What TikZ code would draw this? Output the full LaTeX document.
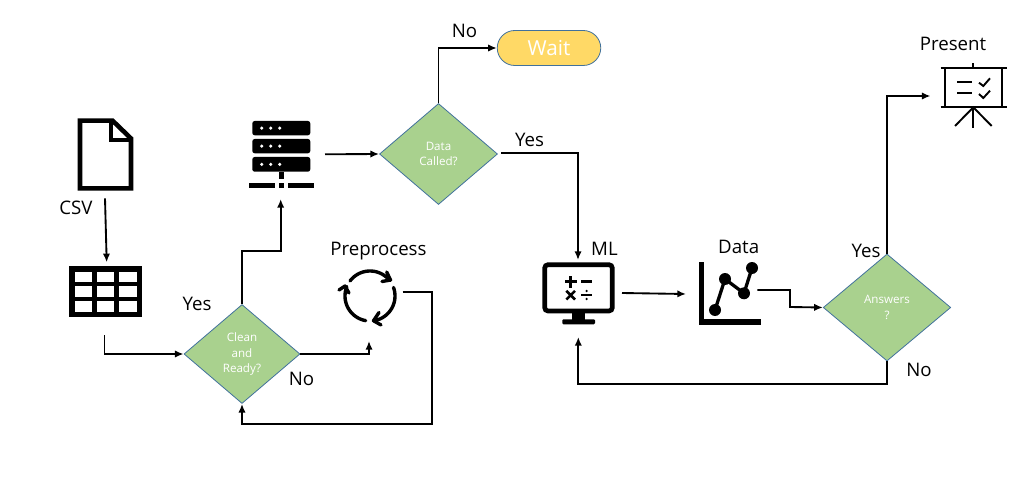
\documentclass[tikz,border=0pt]{standalone}
\usepackage{fontspec}
\setmainfont{Open Sans}
\usetikzlibrary{arrows.meta,shapes.geometric}
\definecolor{dgreen}{HTML}{A9D18E}
\definecolor{dborder}{HTML}{41719C}
\definecolor{wfill}{HTML}{FFD966}
\tikzset{
  x=0.75pt,y=-0.75pt,
  conn/.style={line width=1.4pt,black,-{Latex[length=6.5pt,width=5.5pt]}},
  decision/.style n args={2}{diamond,draw=dborder,line width=0.6pt,fill=dgreen,aspect=1.17,inner sep=0pt,
    minimum width=#1*0.75pt,minimum height=#2*0.75pt,text=white,font=\fontsize{8.7pt}{11.4pt}\selectfont,align=center},
  lbl/.style={font=\fontsize{14pt}{16pt}\selectfont,text=black,inner sep=0pt},
  icon/.style={line width=#1*0.75pt,black,line join=miter},
  iconr/.style={line width=#1*0.75pt,black,line cap=round,line join=round},
}
\begin{document}
\begin{tikzpicture}
\useasboundingbox (0,0) rectangle (1032,481);
\fill[white] (0,0) rectangle (1032,481);

% decisions and terminator
\node[decision={116}{99}] (d1) at (242,354) {Clean\\and\\Ready?};
\node[decision={118}{101}] (d2) at (438.5,154) {Data\\Called?};
\node[decision={127.5}{107}] (d3) at (887,307.5) {Answers\\?};
\node[draw=dborder,line width=0.6pt,fill=wfill,rounded corners=17.5*0.75pt,minimum width=103.5*0.75pt,minimum height=35*0.75pt,inner sep=0pt,
  text=white,font=\fontsize{15.5pt}{17pt}\selectfont] (wait) at (549,48) {Wait};

% document icon
\draw[icon=4.6] (80,188.4) -- (80,120.6) -- (112.5,120.6) -- (131,138.5) -- (131,188.4) -- cycle;
\draw[icon=4.4] (111,120) -- (111,140) -- (131,140);

% table icon
\fill[black] (69.3,266) rectangle (141.7,317.3);
\foreach \xa/\xb in {74.7/91.7,96.7/114,118.7/136.7}
  \foreach \ya/\yb in {271.7/282.3,286/296.7,300.7/312}
    \fill[white] (\xa,\ya) rectangle (\xb,\yb);

% server icon
\foreach \ya/\yb in {121/135.3,139/153.3,157/171.7}{
  \fill[black,rounded corners=1.8pt] (252.3,\ya) rectangle (310.3,\yb);
  \foreach \xc in {261.7,270.7,279.7}
    \fill[white] (\xc,{(\ya+\yb)/2}) circle[radius=1.3pt];
}
\fill[black] (279,171.7) rectangle (284,178.7);
\fill[black] (249,182.7) rectangle (275,188);
\fill[black] (279,182.7) rectangle (284.3,188);
\fill[black] (288.3,182.7) rectangle (314,188);

% preprocess icon
\begin{scope}[iconr=3.4]
  \draw plot[domain=143:38,samples=30] ({370+25*cos(\x)},{296-25*sin(\x)});
  \draw (386.7,272) -- (390.5,280) -- (382,281.5);
  \draw plot[domain=20:-82,samples=30] ({370+25*cos(\x)},{296-25*sin(\x)});
  \draw (381,325) -- (373.5,320.7) -- (379,312.5);
  \draw plot[domain=-100:-202,samples=30] ({370+25*cos(\x)},{296-25*sin(\x)});
  \draw (339,290) -- (345,286) -- (349,293);
\end{scope}

% monitor icon
\draw[icon=4.7,rounded corners=2.5pt] (544.7,264.7) rectangle (612.3,311);
\fill[black] (571.7,311) rectangle (585,320);
\fill[black,rounded corners=0.8pt] (562.3,319.3) rectangle (595,324.3);
\begin{scope}[icon=2.5]
  \draw (565,281.7) -- (576.5,281.7) (570.7,276) -- (570.7,287.5);
  \draw (581,281.5) -- (592.3,281.5);
  \draw (566.3,290.8) -- (575,299.5) (575,290.8) -- (566.3,299.5);
  \draw (581,295) -- (592.3,295);
\end{scope}
\fill[black] (586.7,291) circle[radius=0.95pt] (586.7,299) circle[radius=0.95pt];

% chart icon
\fill[black] (698.7,261.7) rectangle (704,325);
\fill[black] (698.7,319.3) rectangle (761.3,325);
\draw[iconr=3.3] (715,310) -- (725,279) -- (744,293.3) -- (752,268);
\foreach \px/\py in {715/310,725/279,744/293.3,752/268}
  \fill[black] (\px,\py) circle[radius=4.5pt];

% presentation icon
\begin{scope}[icon=1.9]
  \draw (940.7,68.3) -- (1006.7,68.3) (940.7,106.7) -- (1006.7,106.7);
  \draw (945.3,68.3) -- (945.3,106.7) (1002,68.3) -- (1002,106.7);
  \draw (973.3,63.3) -- (973.3,68.3);
  \draw (973.3,106.7) -- (973.3,128.3);
  \draw (955,126) -- (973.3,107.3) -- (991.7,126);
  \draw (957.3,81.7) -- (971.7,81.7) (957.3,92.7) -- (971.7,92.7);
  \draw (979,82.7) -- (983.3,86) -- (990,78.3);
  \draw (979,94) -- (983.3,98) -- (990,90.7);
\end{scope}

% connector free ends
\coordinate (csvOut) at (105,198.3);
\coordinate (tabIn) at (106.7,262.3);
\coordinate (tabOut) at (104.5,335);
\coordinate (srvIn) at (280.7,199);
\coordinate (srvOut) at (325,154.3);
\coordinate (prepIn) at (369,341);
\coordinate (prepOut) at (402.7,292.3);
\coordinate (d2Out) at (501,153.3);
\coordinate (mlIn) at (578,260);
\coordinate (mlBack) at (578.3,337);
\coordinate (mlOut) at (622,293);
\coordinate (chartIn) at (686,294);
\coordinate (chartOut) at (757.3,290);
\coordinate (presIn) at (930.5,96);

% connectors
\draw[conn] (csvOut) -- (tabIn);
\draw[conn] (tabOut) |- (d1.west);
\draw[conn] (d1.north) -- ++(0,-53) -| (srvIn);
\draw[conn] (srvOut) -- (d2.west);
\draw[conn] (d2.north) |- (wait.west);
\draw[conn] (d2Out) -| (mlIn);
\draw[conn] (d1.east) -| (prepIn);
\draw[conn] (prepOut) -- (431.7,292.3) -- (431.7,424) -| (d1.south);
\draw[conn] (mlOut) -- (chartIn);
\draw[conn] (chartOut) -- (790,290) -- (790,307) -- (d3.west);
\draw[conn] (d3.north) |- (presIn);
\draw[conn] (d3.south) -- ++(0,22.3) -| (mlBack);

% labels
\node[lbl] (lcsv) at (76,208) {CSV};
\node[lbl] (ly1) at (197,304) {Yes};
\node[lbl] (ln1) at (301.5,379) {No};
\node[lbl] (lprep) at (378.5,251.5) {Preprocess};
\node[lbl] (ln2) at (464.5,31) {No};
\node[lbl] (ly2) at (529.5,140) {Yes};
\node[lbl] (lml) at (604.5,249) {ML};
\node[lbl] (ldata) at (738.7,246.5) {Data};
\node[lbl] (ly3) at (866,251) {Yes};
\node[lbl] (ln3) at (919,370) {No};
\node[lbl] (lpres) at (953,43.5) {Present};
\end{tikzpicture}
\end{document}
